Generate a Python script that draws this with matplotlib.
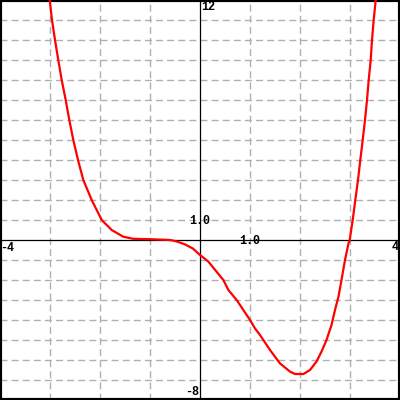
import matplotlib
matplotlib.use("Agg")
import matplotlib.pyplot as plt

# curve samples
xs = [-3.006, -2.96, -2.9, -2.834, -2.766, -2.686, -2.614, -2.534, -2.44, -2.334,
      -2.166, -1.966, -1.766, -1.54, -1.34, -1.0, -0.8, -0.6, -0.5, -0.4, -0.3,
      -0.14, 0.0, 0.167, 0.33, 0.467, 0.567, 0.733, 0.867, 1.0, 1.1, 1.2, 1.4,
      1.6, 1.8, 1.9, 2.07, 2.2, 2.33, 2.43, 2.53, 2.63, 2.7, 2.77, 2.83, 2.9,
      2.97, 2.994, 3.054, 3.106, 3.16, 3.206, 3.254, 3.3, 3.34, 3.374,
      3.414, 3.44, 3.474, 3.514]
ys = [12, 11, 10, 9, 8, 7, 6, 5, 4, 3,
      2, 1, 0.5, 0.17, 0.06, 0.04, 0.02, 0.0, -0.05, -0.13, -0.22,
      -0.43, -0.75, -1.08, -1.58, -2.0, -2.5, -3.0, -3.5, -4.0, -4.42, -4.75, -5.5,
      -6.17, -6.58, -6.7, -6.7, -6.5, -6.08, -5.58, -5.0, -4.25, -3.5, -2.83, -2.0, -1.0,
      -0.17, 0.0, 1, 2, 3, 4, 5, 6, 7, 8,
      9, 10, 11, 12]

xmin, xmax = -4, 4
ymin, ymax = -8, 12
x_gridlines = [-3, -2, -1, 1, 2, 3]
y_gridlines = [v for v in range(-7, 12) if v != 0]

fig = plt.figure(figsize=(4, 4), dpi=100)
ax = fig.add_axes([0, 0, 1, 1])
ax.set_xlim(xmin, xmax)
ax.set_ylim(ymin, ymax)

grid_style = dict(color="#b0b0b0", linewidth=1.0, linestyle=(0, (5, 3)), zorder=1)
for gx in x_gridlines:
    ax.axvline(gx, **grid_style)
for gy in y_gridlines:
    ax.axhline(gy, **grid_style)

ax.axhline(0, color="black", linewidth=0.9, zorder=2)
ax.axvline(0, color="black", linewidth=0.9, zorder=2)

ax.plot(xs, ys, color="#ff0000", linewidth=1.6, zorder=3, clip_on=True,
        solid_joinstyle="round")

for s in ax.spines.values():
    s.set_linewidth(3)
    s.set_color("black")
ax.set_xticks([])
ax.set_yticks([])

tfont = dict(family="Liberation Mono", fontweight="bold", fontsize=8.5, color="black", zorder=4)
ax.text(0.02, 11.95, "12", ha="left", va="top", **tfont)
ax.text(-0.02, -7.9, "-8", ha="right", va="bottom", **tfont)
ax.text(-4.0, -0.1, "-4", ha="left", va="top", **tfont)
ax.text(3.98, -0.05, "4", ha="right", va="top", **tfont)
ax.text(0.0, 0.95, "1.0", ha="center", va="center", **tfont)
ax.text(1.0, -0.07, "1.0", ha="center", va="center", **tfont)

fig.savefig("out.png", dpi=100)
